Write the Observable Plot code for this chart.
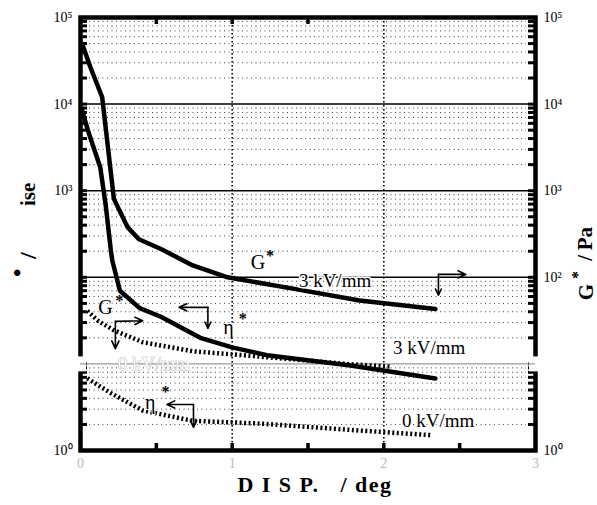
<!DOCTYPE html>
<html>
<head>
<meta charset="utf-8">
<script src="https://cdn.jsdelivr.net/npm/d3@7"></script>
<script src="https://cdn.jsdelivr.net/npm/@observablehq/plot@0.6"></script>
<style>
  body { margin: 0; background: #fff; }
  #chart svg { display: block; }
</style>
</head>
<body>
<div id="chart"></div>
<script>
// ---- data ----
// G* at 3 kV/mm (upper solid curve)
const gHighX = [0.01, 0.066, 0.143, 0.22, 0.31, 0.385, 0.527, 0.74, 0.97, 1.40, 1.84, 2.34];
const gHighY = [50000, 26500, 12000, 805, 380, 275, 214, 137, 100, 74, 54, 43];
// G* at 0 kV/mm (lower solid curve)
const gLowX = [0.01, 0.055, 0.13, 0.165, 0.20, 0.21, 0.26, 0.39, 0.53, 0.79, 1.0, 1.23, 1.78, 2.34];
const gLowY = [8500, 4600, 1870, 710, 205, 155, 70, 44, 35, 20, 15.5, 12.6, 9.6, 6.8];
// eta* at 3 kV/mm (upper dotted curve)
const etaHighX = [0.045, 0.12, 0.22, 0.41, 0.74, 1.07, 1.40, 1.78, 2.05];
const etaHighY = [41, 31, 24.5, 17.8, 14, 12.6, 11.3, 9.9, 9.3];
// eta* at 0 kV/mm (lower dotted curve)
const etaLowX = [0.045, 0.2, 0.41, 0.74, 1.18, 1.84, 2.32];
const etaLowY = [6.8, 4.6, 2.9, 2.2, 2.05, 1.7, 1.5];

// tick values / labels
const xTickLabels = [0, 1, 2, 3];
const xMinorTicks = [0.5, 1, 1.5, 2, 2.5];
const yLeftLabels = [1, 1e3, 1e4, 1e5];
const yRightLabels = [1, 1e2, 1e3, 1e4, 1e5];
const yMajorGrid = [1e2, 1e3, 1e4];
const yDecades = [0, 1, 2, 3, 4];
const yMultipliers = [2, 3, 4, 5, 6, 7, 8, 9];

// annotations
const symText = ["G", "*", "G", "*", "η", "*", "η", "*"];
const symX = [1.17, 1.25, 0.165, 0.257, 0.975, 1.07, 0.46, 0.56];
const symY = [148, 175, 45, 54, 26, 33, 3.58, 4.7];
const condText = ["3 kV/mm", "3 kV/mm", "0 kV/mm"];
const condX = [1.44, 2.06, 2.12];
const condY = [90, 15.5, 2.22];
const ghostText = ["0 kV/mm"];
const ghostX = [0.245];
const ghostY = [10];
const arrowX1 = [2.36, 2.36, 0.23, 0.23, 0.84, 0.84, 0.745, 0.745];
const arrowY1 = [108, 108, 31, 31, 45, 45, 3.4, 3.4];
const arrowX2 = [2.54, 2.36, 0.41, 0.23, 0.65, 0.84, 0.57, 0.745];
const arrowY2 = [108, 62, 31.5, 15, 45, 25.7, 3.4, 1.85];

// ---- build tables ----
const zip = (xs, ys) => xs.map((x, i) => ({x, y: ys[i]}));
const gHigh = zip(gHighX, gHighY);
const gLow = zip(gLowX, gLowY);
const etaHigh = zip(etaHighX, etaHighY);
const etaLow = zip(etaLowX, etaLowY);
const minorGrid = yDecades.flatMap(k => yMultipliers.map(m => m * Math.pow(10, k)));
const minorTicks = [...minorGrid, 1e1, 1e2, 1e3, 1e4];
const syms = symText.map((t, i) => ({t, x: symX[i], y: symY[i], star: t === "*"}));
const conds = condText.map((t, i) => ({t, x: condX[i], y: condY[i]}));
const ghosts = ghostText.map((t, i) => ({t, x: ghostX[i], y: ghostY[i]}));
const arrows = arrowX1.map((x1, i) => ({x1, y1: arrowY1[i], x2: arrowX2[i], y2: arrowY2[i]}));

const sup = {"0": "⁰", "1": "¹", "2": "²", "3": "³", "4": "⁴", "5": "⁵"};
const powFmt = d => "10" + sup[String(Math.round(Math.log10(d)))];

const W = 597, H = 505, ML = 80, MR = 62, MT = 17, MB = 55;
const IW = W - ML - MR, IH = H - MT - MB;
const serif = "Liberation Serif";

const chart = Plot.plot({
  width: W, height: H,
  marginLeft: ML, marginRight: MR, marginTop: MT, marginBottom: MB,
  x: {domain: [0, 3]},
  y: {type: "log", domain: [1, 1e5]},
  style: {fontFamily: "'Liberation Serif', serif", background: "white", color: "black"},
  marks: [
    // minor dotted grid
    Plot.ruleY(minorGrid, {stroke: "#000", strokeWidth: 1, strokeDasharray: "1,3.5", strokeOpacity: 0.75, insetLeft: 9, insetRight: 9}),
    // major solid grid
    Plot.ruleY(yMajorGrid, {stroke: "#000", strokeWidth: 1.5}),
    // vertical dotted grid
    Plot.ruleX([1, 2], {stroke: "#000", strokeWidth: 1.6, strokeDasharray: "1.5,2.5"}),
    // thick frame
    Plot.frame({stroke: "#000", strokeWidth: 4.5}),
    // inward ticks
    Plot.ruleY(minorTicks, {stroke: "#000", strokeWidth: 3, insetRight: IW - 7}),
    Plot.ruleY(minorTicks, {stroke: "#000", strokeWidth: 3, insetLeft: IW - 7}),
    Plot.ruleX(xMinorTicks, {stroke: "#000", strokeWidth: 3.5, insetTop: IH - 7}),
    Plot.ruleX(xMinorTicks.slice(0, 3), {stroke: "#000", strokeWidth: 3.5, insetBottom: IH - 7}),
    // scan gap at 10^1
    Plot.ruleY([10], {stroke: "white", strokeWidth: 15, insetRight: IW - 10, dx: -4}),
    Plot.ruleY([10], {stroke: "white", strokeWidth: 15, insetLeft: IW - 10, dx: 4}),
    Plot.ruleY([10], {stroke: "#999", strokeWidth: 1.2}),
    // curves
    Plot.line(etaHigh, {x: "x", y: "y", stroke: "#000", strokeWidth: 4.5, strokeDasharray: "2,2.5", strokeLinecap: "butt"}),
    Plot.line(etaLow, {x: "x", y: "y", stroke: "#000", strokeWidth: 4.5, strokeDasharray: "2,2.5", strokeLinecap: "butt"}),
    Plot.line(gHigh, {x: "x", y: "y", stroke: "#000", strokeWidth: 4.5}),
    Plot.line(gLow, {x: "x", y: "y", stroke: "#000", strokeWidth: 4.5}),
    // ghost label on the 10^1 line
    Plot.text(ghosts, {x: "x", y: "y", text: "t", textAnchor: "start", fontFamily: serif, fontSize: 19, fill: "white", stroke: "#999", strokeWidth: 0.7}),
    // condition labels
    Plot.text(conds, {x: "x", y: "y", text: "t", textAnchor: "start", fontFamily: serif, fontSize: 19, fill: "#000", stroke: "white", strokeWidth: 3}),
    // symbol labels
    Plot.text(syms.filter(d => !d.star), {x: "x", y: "y", text: "t", fontFamily: serif, fontSize: 20, fill: "#000", stroke: "white", strokeWidth: 2}),
    Plot.text(syms.filter(d => d.star), {x: "x", y: "y", text: "t", fontFamily: serif, fontSize: 16, fontWeight: "bold", fill: "#000"}),
    // arrows
    Plot.arrow(arrows, {x1: "x1", y1: "y1", x2: "x2", y2: "y2", stroke: "#000", strokeWidth: 1.6, headLength: 8, headAngle: 50}),
    // tick labels
    Plot.axisY(yLeftLabels, {anchor: "left", tickSize: 0, tickPadding: 8, tickFormat: powFmt, fontFamily: serif, fontSize: 14, label: null}),
    Plot.axisY(yRightLabels, {anchor: "right", tickSize: 0, tickPadding: 8, tickFormat: powFmt, fontFamily: serif, fontSize: 14, label: null}),
    Plot.axisX(xTickLabels, {anchor: "bottom", tickSize: 0, tickPadding: 8, tickFormat: d => String(d), fontFamily: serif, fontSize: 14, fill: "#bbb", label: null}),
    // axis titles
    Plot.text(["ise"], {frameAnchor: "left", dx: -52, dy: -28, rotate: -90, fontFamily: serif, fontSize: 21, fontWeight: "bold"}),
    Plot.text(["/"], {frameAnchor: "left", dx: -52, dy: 25, rotate: -90, fontFamily: serif, fontSize: 24, fontWeight: "bold"}),
    Plot.text(["•"], {frameAnchor: "left", dx: -63, dy: 43, rotate: -90, fontFamily: serif, fontSize: 24, fontWeight: "bold"}),
    Plot.text(["G"], {frameAnchor: "right", dx: 51, dy: 50, rotate: -90, fontFamily: serif, fontSize: 21, fontWeight: "bold"}),
    Plot.text(["*"], {frameAnchor: "right", dx: 42, dy: 37, rotate: -90, fontFamily: serif, fontSize: 16, fontWeight: "bold"}),
    Plot.text(["/"], {frameAnchor: "right", dx: 50, dy: 21, rotate: -90, fontFamily: serif, fontSize: 21, fontWeight: "bold"}),
    Plot.text(["Pa"], {frameAnchor: "right", dx: 50, dy: -7, rotate: -90, fontFamily: serif, fontSize: 21, fontWeight: "bold"}),
    Plot.text(["D I S P.   / deg"], {frameAnchor: "bottom", dx: 7, dy: 41, fontFamily: serif, fontSize: 22, fontWeight: "bold"})
  ]
});
document.getElementById("chart").appendChild(chart);
d3.select(chart).selectAll("text").filter(function() { return this.textContent.startsWith("D I S P."); })
  .attr("letter-spacing", "1.5px");
</script>
</body>
</html>
